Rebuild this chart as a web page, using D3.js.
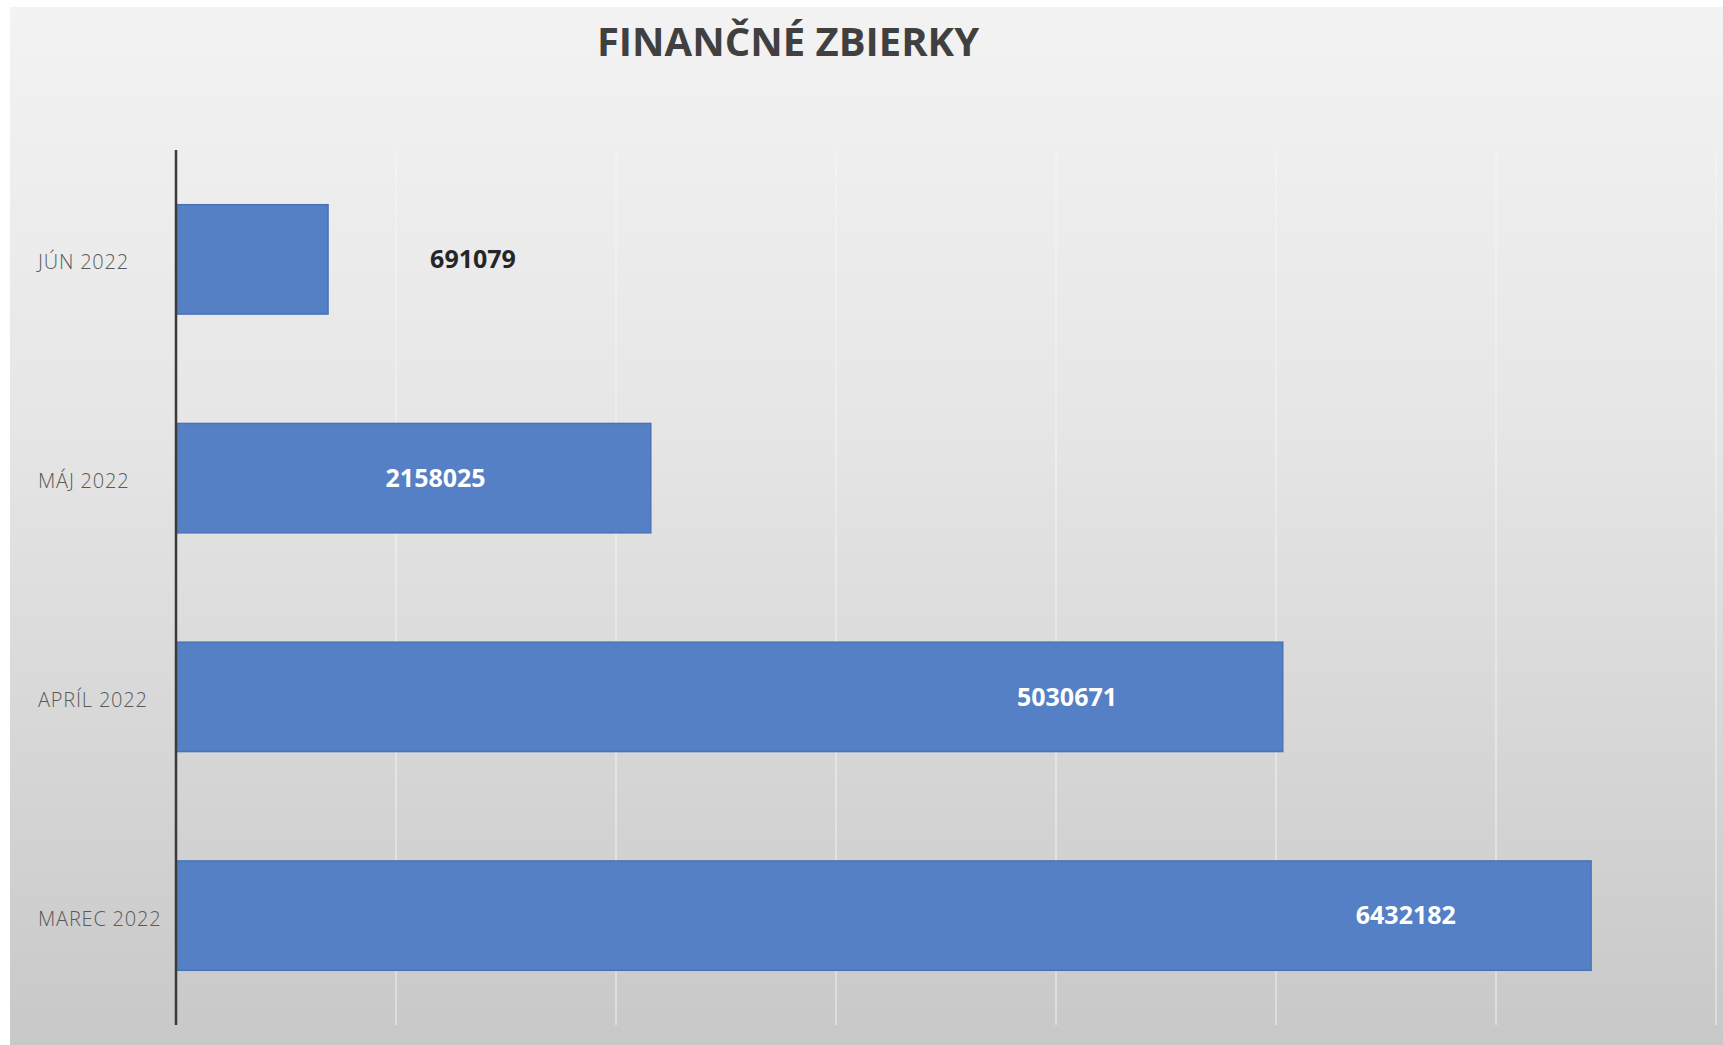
<!DOCTYPE html>
<html>
<head>
<meta charset="utf-8">
<script src="https://cdn.jsdelivr.net/npm/d3@7"></script>
<style>
  html, body { margin: 0; padding: 0; background: #fff; }
  svg { display: block; }
  .cat-label { font-family: "Open Sans", sans-serif; font-weight: 300; font-size: 20px; fill: #595959; letter-spacing: 0.8px; }
  .val-label { font-family: "Open Sans", sans-serif; font-weight: 700; font-size: 25px; }
  .title { font-family: "Open Sans", sans-serif; font-weight: 700; font-size: 40px; fill: #404040; }
</style>
</head>
<body>
<div class="wrap-chart"></div>
<script>
var
  width = 1723,
  height = 1045,
  plot = { left: 176, right: 1716, top: 150, bottom: 1025 };

// data
var months = ["JÚN 2022", "MÁJ 2022", "APRÍL 2022", "MAREC 2022"];
var amounts = [691079, 2158025, 5030671, 6432182];
var xTicks = [1000000, 2000000, 3000000, 4000000, 5000000, 6000000, 7000000];

// where each value label sits, in amount units (as placed in the original)
var valueLabelAt = [1350000, 1180000, 4050000, 5590000];

var data = months.map(function (m, i) {
  return { month: m, amount: amounts[i], labelAt: valueLabelAt[i] };
});

var x = d3.scaleLinear()
  .domain([0, 7000000])
  .range([plot.left, plot.right]);

var y = d3.scaleBand()
  .domain(months)
  .range([plot.top, plot.bottom])
  .paddingInner(0.5)
  .paddingOuter(0.25);

var svg = d3.select(".wrap-chart")
  .append("svg")
  .attr("width", width)
  .attr("height", height);

var defs = svg.append("defs");
var grad = defs.append("linearGradient")
  .attr("id", "bg")
  .attr("x1", 0).attr("y1", 0)
  .attr("x2", 0).attr("y2", 1);
grad.append("stop").attr("offset", "0%").attr("stop-color", "#f3f3f3");
grad.append("stop").attr("offset", "40%").attr("stop-color", "#e6e6e6");
grad.append("stop").attr("offset", "100%").attr("stop-color", "#c8c8c8");

// chart area background
svg.append("rect")
  .attr("x", 10)
  .attr("y", 7)
  .attr("width", width - 10)
  .attr("height", height - 7)
  .attr("fill", "url(#bg)");

// gridlines
svg.append("g")
  .attr("class", "grid")
  .selectAll("line")
  .data(xTicks).enter()
  .append("line")
  .attr("x1", function (d) { return x(d); })
  .attr("x2", function (d) { return x(d); })
  .attr("y1", plot.top)
  .attr("y2", plot.bottom)
  .attr("stroke", "#f6f6f6")
  .attr("stroke-opacity", 0.45)
  .attr("stroke-width", 2);

// bars
svg.append("g")
  .selectAll("rect")
  .data(data).enter()
  .append("rect")
  .attr("x", x(0))
  .attr("y", function (d) { return y(d.month); })
  .attr("width", function (d) { return x(d.amount) - x(0); })
  .attr("height", y.bandwidth())
  .attr("fill", "#5580c6")
  .attr("stroke", "#4a72b6")
  .attr("stroke-width", 1.5);

// vertical axis line
svg.append("line")
  .attr("x1", x(0)).attr("x2", x(0))
  .attr("y1", plot.top).attr("y2", plot.bottom)
  .attr("stroke", "#3a3a3a")
  .attr("stroke-width", 2.5);

// category labels (left aligned)
svg.append("g")
  .selectAll("text")
  .data(data).enter()
  .append("text")
  .attr("class", "cat-label")
  .attr("x", 38)
  .attr("y", function (d) { return y(d.month) + y.bandwidth() / 2 + 3; })
  .attr("dy", "0.35em")
  .text(function (d) { return d.month; });

// value labels
svg.append("g")
  .selectAll("text")
  .data(data).enter()
  .append("text")
  .attr("class", "val-label")
  .attr("text-anchor", "middle")
  .attr("x", function (d) { return x(d.labelAt); })
  .attr("y", function (d) { return y(d.month) + y.bandwidth() / 2; })
  .attr("dy", "0.35em")
  .attr("fill", function (d) { return d.labelAt > d.amount ? "#262626" : "#ffffff"; })
  .text(function (d) { return d.amount; });

// title
svg.append("text")
  .attr("class", "title")
  .attr("x", 788)
  .attr("y", 56)
  .attr("text-anchor", "middle")
  .text("FINANČNÉ ZBIERKY");
</script>
</body>
</html>
